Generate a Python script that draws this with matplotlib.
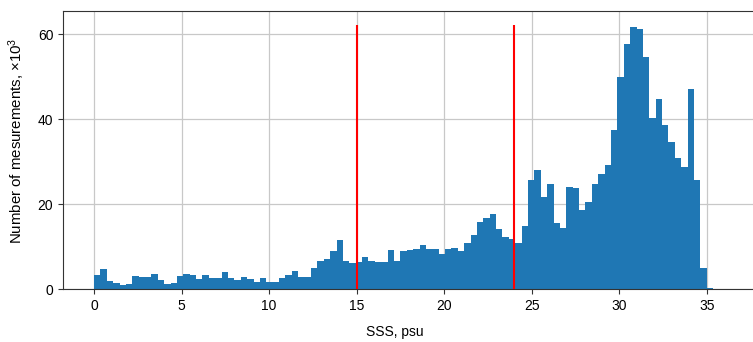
import numpy as np
import matplotlib
matplotlib.use("Agg")
import matplotlib.pyplot as plt

plt.rcParams['font.family'] = ['Liberation Sans', 'DejaVu Sans']
plt.rcParams['mathtext.default'] = 'regular'

# Sea surface salinity histogram (counts in thousands per bin)
bin_width = 35 / 96
counts = [
    3.4, 4.7, 2.0, 1.5, 1.0, 1.2, 3.2, 3.0, 3.0, 3.7,
    2.2, 1.35, 1.4, 3.05, 3.5, 3.4, 2.5, 3.4, 2.7, 2.7,
    4.0, 2.6, 2.2, 3.0, 2.4, 1.8, 2.7, 1.65, 1.8, 2.6,
    3.4, 4.4, 3.0, 2.8, 4.9, 6.7, 7.1, 8.9, 11.5, 6.7,
    6.2, 6.4, 7.7, 6.7, 6.4, 6.5, 9.25, 6.6, 9.0, 9.2,
    9.6, 10.5, 9.5, 9.6, 8.3, 9.4, 9.8, 8.9, 10.8, 12.8,
    15.9, 16.7, 17.7, 14.2, 12.2, 11.8, 11.0, 14.9, 25.7, 28.1,
    21.8, 24.9, 15.7, 14.5, 24.0, 23.8, 18.7, 20.6, 24.9, 27.1,
    29.2, 37.4, 50.0, 57.7, 61.8, 61.2, 54.7, 40.4, 44.7, 38.6,
    34.7, 31.0, 28.9, 47.1, 25.7, 5.0, 0.4,
]
threshold_sss = [15, 24]
threshold_top = 62.2
x_ticks = [0, 5, 10, 15, 20, 25, 30, 35]
y_ticks = [0, 20, 40, 60]

edges = np.arange(len(counts) + 1) * bin_width
centers = (edges[:-1] + edges[1:]) / 2

fig = plt.figure(figsize=(7.53, 3.42), dpi=100)
ax = fig.add_axes([63 / 753, (342 - 289.3) / 342, (757 - 63) / 753, (289.3 - 11) / 342])

ax.hist(centers, bins=edges, weights=counts, color='#1f77b4', zorder=2)
ax.vlines(threshold_sss, 0, threshold_top, colors='red', linewidth=1.5, zorder=3)

ax.set_xlim(-1.77, 37.87)
ax.set_ylim(0, 65.5)
ax.set_xticks(x_ticks)
ax.set_yticks(y_ticks)
ax.grid(True, color='#c8c8c8', linewidth=0.9, zorder=0)
ax.set_axisbelow(True)
ax.tick_params(labelsize=10, color='#333333')
for side in ('left', 'bottom', 'top'):
    ax.spines[side].set_color('#333333')
ax.spines['right'].set_visible(False)

ax.set_ylabel('Number of mesurements, ×10$^3$', fontsize=10.8)
ax.set_xlabel('SSS, psu', fontsize=10)
ax.xaxis.set_label_coords(0.478, -0.13)
ax.yaxis.set_label_coords(-0.052, 0.535)

fig.savefig('out.png', dpi=100)
